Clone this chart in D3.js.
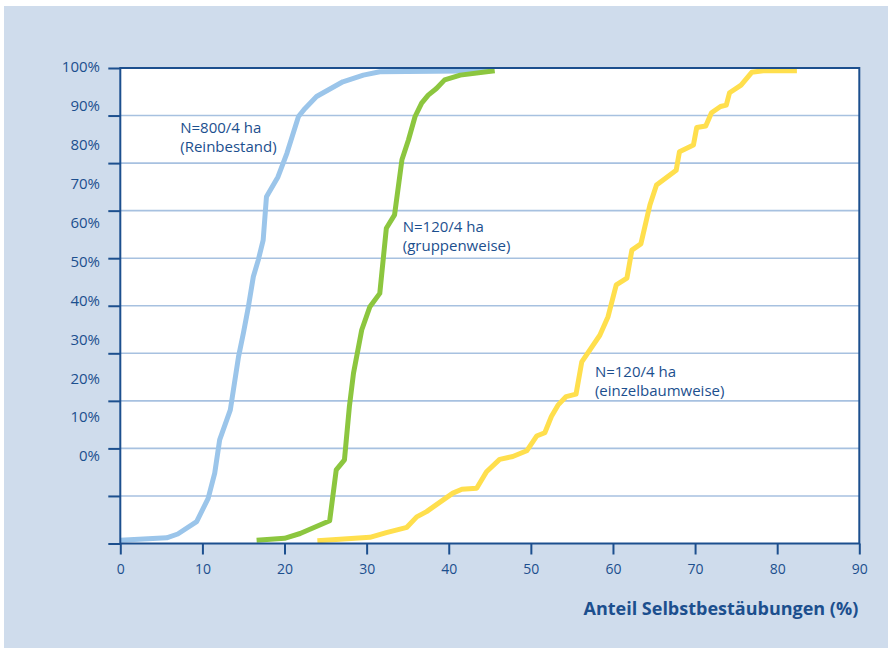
<!DOCTYPE html>
<html><head><meta charset="utf-8">
<script src="https://cdn.jsdelivr.net/npm/d3@7"></script>
<style>
html,body{margin:0;padding:0;background:#fff;}
text{font-family:"Open Sans","Noto Sans",sans-serif;fill:#1c4f8e;}
</style></head>
<body><svg id="c" width="888" height="648"></svg>
<script>
// ---- data ----
const xTicks = [0,10,20,30,40,50,60,70,80,90];
const yGrid = [0,10,20,30,40,50,60,70,80,90,100];
const yLabels = ["0%","10%","20%","30%","40%","50%","60%","70%","80%","90%","100%"];
const seriesNames = ["Reinbestand","gruppenweise","einzelbaumweise"];
const reinX = [0,5.65,7.0,9.3,10.7,11.5,12.1,13.4,14.4,15.0,15.6,16.2,16.8,17.4,17.8,19.2,20.3,21.7,22.5,23.9,27.1,29.6,31.6,45];
const reinY = [0.7,1.2,2.0,4.6,9.5,14.8,21.8,28.1,39.3,44.3,49.8,56.1,59.6,63.8,72.9,77.1,82.1,89.8,91.5,94.0,97.1,98.5,99.2,99.4];
const gruppX = [16.6,20.0,21.9,25.5,26.3,27.3,27.9,28.4,29.4,30.4,31.6,32.4,33.4,34.3,35.1,35.9,36.7,37.5,38.5,39.5,41.4,45.6];
const gruppY = [0.7,1.1,2.1,4.8,15.5,17.6,28.8,35.8,44.9,49.8,52.6,66.3,69.1,80.7,84.9,89.8,92.6,94.3,95.7,97.5,98.5,99.4];
const einzX = [24.0,30.4,32.4,34.9,36.1,37.3,40.5,41.6,43.4,44.6,46.2,47.8,49.5,50.7,51.7,52.5,53.3,54.3,55.5,56.2,58.4,59.4,60.4,61.7,62.3,63.4,64.5,65.3,67.7,68.1,69.8,70.2,71.3,72.0,73.1,73.8,74.2,75.6,76.9,78.3,82.4];
const einzY = [0.6,1.3,2.3,3.4,5.6,6.7,10.6,11.4,11.6,15.1,17.7,18.3,19.5,22.6,23.3,26.7,29.1,30.9,31.4,38.2,43.8,47.7,54.4,55.8,61.7,63.0,71.2,75.4,78.5,82.4,83.8,87.5,87.8,90.6,91.9,92.2,94.8,96.4,99.1,99.4,99.4];
const annotations = [
  {lines:["N=800/4 ha","(Reinbestand)"], x:7.3, y:86.3},
  {lines:["N=120/4 ha","(gruppenweise)"], x:34.4, y:65.5},
  {lines:["N=120/4 ha","(einzelbaumweise)"], x:57.8, y:35.1}
];
const xTitle = "Anteil Selbstbestäubungen (%)";

// ---- drawing ----
const svg = d3.select("#c");
const dark = "#1c4f8e";
svg.append("rect").attr("x",4).attr("y",6).attr("width",884).attr("height",642).attr("fill","#cfdcec");

const x = d3.scaleLinear().domain([0,90]).range([120.3,859.3]);
const y = d3.scaleLinear().domain([0,100]).range([543.5,68]);
const yLab = d3.scaleLinear().domain([0,100]).range([456,67]);

svg.append("rect").attr("x",x(0)).attr("y",y(100)).attr("width",x(90)-x(0)).attr("height",y(0)-y(100)).attr("fill","#fff");

// gridlines
svg.append("g").selectAll("line").data(yGrid.slice(1,-1)).join("line")
  .attr("x1",x(0)).attr("x2",x(90)).attr("y1",d=>y(d)).attr("y2",d=>y(d))
  .attr("stroke","#a7c1e0").attr("stroke-width",1.6);

// lines
const series = [
  {xs:reinX, ys:reinY, color:"#9bc5ea"},
  {xs:gruppX, ys:gruppY, color:"#8cc63f"},
  {xs:einzX, ys:einzY, color:"#ffdf4d"}
];
const line = d3.line().x(d=>x(d[0])).y(d=>y(d[1]));
series.forEach(s=>{
  svg.append("path").datum(s.xs.map((v,i)=>[v,s.ys[i]]))
    .attr("d",line).attr("fill","none").attr("stroke",s.color)
    .attr("stroke-width",5).attr("stroke-linejoin","round");
});

// frame
svg.append("rect").attr("x",x(0)).attr("y",y(100)).attr("width",x(90)-x(0)).attr("height",y(0)-y(100))
  .attr("fill","none").attr("stroke",dark).attr("stroke-width",2);

// left ticks (no labels)
const yAxis = svg.append("g").attr("transform",`translate(${x(0)},0)`)
  .call(d3.axisLeft(y).tickValues(yGrid).tickSize(12).tickFormat(""));
yAxis.select(".domain").remove();
yAxis.selectAll("line").attr("stroke",dark).attr("stroke-width",2);

// left labels (offset as in original)
const yLabAxis = svg.append("g").attr("transform",`translate(100,0)`)
  .call(d3.axisLeft(yLab).tickValues(yGrid).tickSize(0).tickPadding(0).tickFormat((d,i)=>yLabels[i]));
yLabAxis.select(".domain").remove();
yLabAxis.selectAll("text").attr("font-size",15).attr("fill",dark).attr("font-family",null);

// bottom axis
const xAxis = svg.append("g").attr("transform",`translate(0,${y(0)})`)
  .call(d3.axisBottom(x).tickValues(xTicks).tickSize(11).tickPadding(10));
xAxis.select(".domain").remove();
xAxis.selectAll("line").attr("stroke",dark).attr("stroke-width",2);
xAxis.selectAll("text").attr("font-size",14).attr("fill",dark).attr("font-family",null);

// x title
svg.append("text").attr("x",x(90)-1).attr("y",615).attr("text-anchor","end")
  .attr("font-size",18).attr("font-weight","bold").text(xTitle);

// annotations
annotations.forEach(a=>{
  const t = svg.append("text").attr("x",x(a.x)).attr("y",y(a.y)).attr("font-size",15);
  a.lines.forEach((l,i)=>t.append("tspan").attr("x",x(a.x)).attr("dy",i?19:0).text(l));
});
</script></body></html>
